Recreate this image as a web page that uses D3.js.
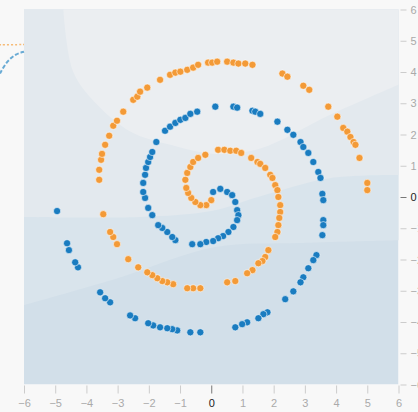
<!DOCTYPE html>
<html>
<head>
<meta charset="utf-8">
<script src="https://cdn.jsdelivr.net/npm/d3@7"></script>
<style>
html,body{margin:0;padding:0;background:#f8f8f8;overflow:hidden;}
svg{display:block;font-family:"Liberation Sans",Arial,Helvetica,sans-serif;}
</style>
</head>
<body>
<svg id="chart" width="418" height="412"></svg>
<script>
// ---- data (x, y in data units) ----
const orangePoints = [
[0.00,-0.10],[-0.16,-0.26],[-0.35,-0.26],[-0.51,-0.16],[-0.64,-0.03],[-0.74,0.13],[-0.80,0.29],[-0.83,0.55],
[-0.77,0.77],[-0.67,0.96],[-0.58,1.12],[-0.42,1.25],[-0.19,1.35],[0.22,1.51],[0.42,1.51],[0.61,1.48],
[0.80,1.48],[0.96,1.41],[1.28,1.25],[1.48,1.12],[1.57,1.06],[1.73,0.93],[1.89,0.71],[1.96,0.61],
[2.05,0.38],[2.12,0.22],[2.15,0.00],[2.21,-0.26],[2.21,-0.48],[2.18,-0.67],[2.15,-0.90],[2.12,-1.12],
[2.05,-1.28],[1.83,-1.70],[1.73,-1.92],[1.64,-2.05],[1.51,-2.12],[1.32,-2.34],[1.15,-2.44],[0.77,-2.69],
[0.51,-2.73],[-0.35,-2.92],[-0.58,-2.92],[-0.77,-2.92],[-1.22,-2.79],[-1.41,-2.73],[-1.57,-2.69],[-1.73,-2.60],
[-1.89,-2.50],[-2.05,-2.41],[-2.34,-2.25],[-2.66,-1.99],[-3.02,-1.51],[-3.14,-1.28],[-3.24,-1.12],[-3.46,-0.55],
[-3.59,0.55],[-3.59,0.87],[-3.53,1.19],[-3.50,1.38],[-3.40,1.67],[-3.27,1.96],[-3.14,2.28],[-3.02,2.44],
[-2.82,2.73],[-2.50,3.11],[-2.37,3.21],[-2.28,3.37],[-2.05,3.50],[-1.64,3.75],[-1.32,3.91],[-1.15,3.98],
[-0.99,4.01],[-0.77,4.07],[-0.58,4.14],[-0.42,4.23],[-0.10,4.30],[0.03,4.30],[0.19,4.33],[0.51,4.33],
[0.71,4.30],[0.87,4.27],[1.09,4.27],[1.32,4.23],[2.28,3.95],[2.44,3.85],[2.95,3.56],[3.14,3.43],
[3.75,2.89],[4.04,2.57],[4.23,2.21],[4.36,2.09],[4.46,1.92],[4.56,1.76],[4.62,1.67],[4.75,1.25],
[5.00,0.45],[5.00,0.22]
];
const bluePoints = [
[0.06,0.16],[0.29,0.26],[0.51,0.16],[0.67,0.06],[0.77,-0.16],[0.83,-0.42],[0.87,-0.58],[0.83,-0.74],
[0.71,-0.96],[0.55,-1.12],[0.38,-1.25],[0.22,-1.32],[0.06,-1.41],[-0.16,-1.44],[-0.35,-1.51],[-0.61,-1.51],
[-1.15,-1.38],[-1.25,-1.28],[-1.41,-1.12],[-1.57,-0.99],[-1.70,-0.90],[-1.89,-0.58],[-2.02,-0.35],[-2.12,-0.03],
[-2.18,0.16],[-2.18,0.45],[-2.12,0.71],[-2.09,0.93],[-2.02,1.12],[-1.96,1.28],[-1.89,1.44],[-1.76,1.76],
[-1.48,2.12],[-1.32,2.25],[-1.15,2.37],[-0.99,2.47],[-0.83,2.53],[-0.67,2.66],[-0.45,2.73],[0.13,2.89],
[0.71,2.89],[0.83,2.86],[1.32,2.76],[1.41,2.73],[1.57,2.66],[2.12,2.41],[2.44,2.15],[2.63,1.99],
[2.86,1.76],[2.95,1.60],[3.11,1.41],[3.27,1.12],[3.43,0.80],[3.50,0.61],[3.56,0.10],[3.59,-0.10],
[3.59,-0.74],[3.59,-0.90],[3.56,-1.22],[3.37,-1.86],[3.27,-2.02],[3.11,-2.28],[2.95,-2.57],[2.86,-2.73],
[2.63,-3.02],[2.37,-3.27],[1.80,-3.69],[1.67,-3.75],[1.51,-3.88],[1.15,-4.01],[0.99,-4.07],[0.77,-4.17],
[-0.35,-4.33],[-0.67,-4.33],[-1.09,-4.27],[-1.25,-4.23],[-1.41,-4.20],[-1.64,-4.17],[-1.86,-4.11],[-2.02,-4.04],
[-2.44,-3.88],[-2.60,-3.79],[-3.24,-3.37],[-3.40,-3.24],[-3.56,-3.05],[-4.27,-2.25],[-4.36,-2.09],[-4.56,-1.70],
[-4.62,-1.48],[-4.94,-0.45]
];
const xTicks = [-6,-5,-4,-3,-2,-1,0,1,2,3,4,5,6];
const yTicks = [-6,-5,-4,-3,-2,-1,0,1,2,3,4,5,6];

// background decision regions: boundary curves (data units), darkest drawn first
const bgEdge2 = [[6,-1.38],[2.85,-1.47],[0.13,-1.6],[-3,-2.6],[-6,-3.46]];
const bgEdge1 = [[6,0.7],[3.8,0.6],[1.5,0.0],[0,-0.45],[-2.3,-0.64],[-6,-0.64]];
const bgEdge0 = [[6,3.59],[3.81,2.63],[1.57,1.55],[0.13,1.38],[-1.31,1.67],[-2.6,2.1],[-3.65,2.95],[-4.42,4.0],[-4.74,6]];
const bgColors = ["#d2dfe9","#d9e4ec","#e3e9ee","#ebeef1"];

// partial network links visible at the left edge
const linkOrange = [[-6.8,4.87],[-6.4,4.87],[-6.0,4.88]];
const linkBlue = [[-6.77,3.95],[-6.55,4.35],[-6.25,4.58],[-6.0,4.65]];

// ---- drawing ----
const svg = d3.select("#chart");
const x = d3.scaleLinear().domain([-6,6]).range([24,398.5]);
const y = d3.scaleLinear().domain([-6,6]).range([384.5,9.5]);

svg.append("defs").append("clipPath").attr("id","plotclip")
  .append("rect").attr("x",x(-6)).attr("y",y(6)).attr("width",x(6)-x(-6)).attr("height",y(-6)-y(6));

const bg = svg.append("g").attr("clip-path","url(#plotclip)");
const edge = d3.line().x(d=>x(d[0])).y(d=>y(d[1])).curve(d3.curveCatmullRom.alpha(0.5));
function region(pts, closeVia){
  // boundary curve, then close along the top / left of the plot
  return edge(pts) + closeVia.map(p=>`L${x(p[0])},${y(p[1])}`).join("") + "Z";
}
bg.append("rect").attr("x",x(-6)).attr("y",y(6)).attr("width",x(6)-x(-6)).attr("height",y(-6)-y(6)).attr("fill",bgColors[0]);
bg.append("path").attr("d",region(bgEdge2,[[-6.5,-3.46],[-6.5,6.5],[6.5,6.5],[6.5,-1.38]])).attr("fill",bgColors[1]);
bg.append("path").attr("d",region(bgEdge1,[[-6.5,-0.64],[-6.5,6.5],[6.5,6.5],[6.5,0.7]])).attr("fill",bgColors[2]);
bg.append("path").attr("d",region(bgEdge0,[[-4.74,6.5],[6.5,6.5],[6.5,3.59]])).attr("fill",bgColors[3]);

// links
const lineGen = d3.line().x(d=>x(d[0])).y(d=>y(d[1])).curve(d3.curveBasis);
svg.append("path").attr("d",lineGen(linkOrange)).attr("fill","none")
  .attr("stroke","#f59322").attr("stroke-opacity",0.6).attr("stroke-width",1.5).attr("stroke-dasharray","2,2");
svg.append("path").attr("d",lineGen(linkBlue)).attr("fill","none")
  .attr("stroke","#0877bd").attr("stroke-opacity",0.6).attr("stroke-width",2).attr("stroke-dasharray","4,2");

// points
const pts = svg.append("g");
pts.selectAll("circle.o").data(orangePoints).join("circle").attr("class","o")
  .attr("cx",d=>x(d[0])).attr("cy",d=>y(d[1])).attr("r",3.6)
  .attr("fill","#f39a37").attr("stroke","#fff").attr("stroke-width",0.8).attr("stroke-opacity",0.7);
pts.selectAll("circle.b").data(bluePoints).join("circle").attr("class","b")
  .attr("cx",d=>x(d[0])).attr("cy",d=>y(d[1])).attr("r",3.6)
  .attr("fill","#1a7cc0").attr("stroke","#fff").attr("stroke-width",0.8).attr("stroke-opacity",0.7);

// axes
const xAxis = svg.append("g").attr("transform",`translate(0,${y(-6)+1})`)
  .call(d3.axisBottom(x).tickValues(xTicks).tickFormat(d3.format("d")).tickSize(8).tickPadding(6));
const yAxis = svg.append("g").attr("transform",`translate(${x(6)+2},0)`)
  .call(d3.axisRight(y).tickValues(yTicks).tickFormat(d3.format("d")).tickSize(6).tickPadding(4));
[xAxis,yAxis].forEach(a=>{
  a.select(".domain").remove();
  a.selectAll(".tick line").attr("stroke",d=>d===0?"#777":"#ccc");
  a.selectAll(".tick text").attr("fill",d=>d===0?"#222":"#aaa").attr("font-size",11)
   .attr("font-family","'Liberation Sans',Arial,sans-serif");
});
</script>
</body>
</html>
